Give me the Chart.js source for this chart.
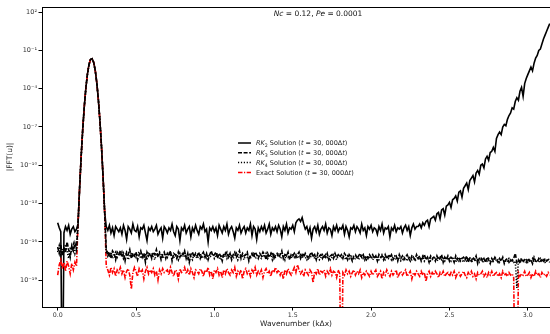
<!DOCTYPE html>
<html>
<head>
<meta charset="utf-8">
<script src="https://cdn.jsdelivr.net/npm/chart.js@4.4.1/dist/chart.umd.min.js"></script>
<style>
  html, body { margin: 0; padding: 0; background: #fff; }
  #wrap { width: 550px; height: 334px; }
</style>
</head>
<body>
<div id="wrap"><canvas id="fft" width="550" height="334"></canvas></div>
<script>
// wavenumber grid (k dx) and log10 |FFT(u)|
const wavenumber = [
  0.00,0.01,0.02,0.03,0.04,0.05,0.06,0.07,0.08,0.09,
  0.10,0.11,0.12,0.13,0.14,0.15,0.16,0.17,0.18,0.19,
  0.20,0.21,0.22,0.23,0.24,0.25,0.26,0.27,0.28,0.29,
  0.30,0.31,0.32,0.33,0.34,0.35,0.36,0.37,0.38,0.39,
  0.40,0.41,0.42,0.43,0.44,0.45,0.46,0.47,0.48,0.49,
  0.50,0.51,0.52,0.53,0.54,0.55,0.56,0.57,0.58,0.59,
  0.60,0.61,0.62,0.63,0.64,0.65,0.66,0.67,0.68,0.69,
  0.70,0.71,0.72,0.73,0.74,0.75,0.76,0.77,0.78,0.79,
  0.80,0.81,0.82,0.83,0.84,0.85,0.86,0.87,0.88,0.89,
  0.90,0.91,0.92,0.93,0.94,0.95,0.96,0.97,0.98,0.99,
  1.00,1.01,1.02,1.03,1.04,1.05,1.06,1.07,1.08,1.09,
  1.10,1.11,1.12,1.13,1.14,1.15,1.16,1.17,1.18,1.19,
  1.20,1.21,1.22,1.23,1.24,1.25,1.26,1.27,1.28,1.29,
  1.30,1.31,1.32,1.33,1.34,1.35,1.36,1.37,1.38,1.39,
  1.40,1.41,1.42,1.43,1.44,1.45,1.46,1.47,1.48,1.49,
  1.50,1.51,1.52,1.53,1.54,1.55,1.56,1.57,1.58,1.59,
  1.60,1.61,1.62,1.63,1.64,1.65,1.66,1.67,1.68,1.69,
  1.70,1.71,1.72,1.73,1.74,1.75,1.76,1.77,1.78,1.79,
  1.80,1.81,1.82,1.83,1.84,1.85,1.86,1.87,1.88,1.89,
  1.90,1.91,1.92,1.93,1.94,1.95,1.96,1.97,1.98,1.99,
  2.00,2.01,2.02,2.03,2.04,2.05,2.06,2.07,2.08,2.09,
  2.10,2.11,2.12,2.13,2.14,2.15,2.16,2.17,2.18,2.19,
  2.20,2.21,2.22,2.23,2.24,2.25,2.26,2.27,2.28,2.29,
  2.30,2.31,2.32,2.33,2.34,2.35,2.36,2.37,2.38,2.39,
  2.40,2.41,2.42,2.43,2.44,2.45,2.46,2.47,2.48,2.49,
  2.50,2.51,2.52,2.53,2.54,2.55,2.56,2.57,2.58,2.59,
  2.60,2.61,2.62,2.63,2.64,2.65,2.66,2.67,2.68,2.69,
  2.70,2.71,2.72,2.73,2.74,2.75,2.76,2.77,2.78,2.79,
  2.80,2.81,2.82,2.83,2.84,2.85,2.86,2.87,2.88,2.89,
  2.90,2.91,2.92,2.93,2.94,2.95,2.96,2.97,2.98,2.99,
  3.00,3.01,3.02,3.03,3.04,3.05,3.06,3.07,3.08,3.09,
  3.10,3.11,3.12,3.13,3.14
];

const rk2Log = [
  -14.5,-14.9,-15.2,-30,-15.3,-14.8,-15.1,-14.7,-15.4,-15.0,
  -14.8,-15.2,-15.0,-14.59,-11.77,-9.29,-7.16,-5.38,-3.94,-2.85,
  -2.10,-1.70,-1.65,-1.95,-2.59,-3.57,-4.91,-6.59,-8.61,-10.99,
  -13.71,-14.8,-15.1,-14.7,-15.3,-14.9,-15.5,-14.8,-15.0,-15.2,
  -14.9,-15.4,-14.7,-15.1,-15.8,-14.8,-15.0,-15.3,-14.6,-15.1,
  -15.2,-14.8,-15.6,-14.9,-15.0,-14.7,-15.3,-15.9,-14.9,-15.1,
  -14.8,-15.2,-15.0,-14.7,-15.4,-15.1,-14.9,-15.7,-14.8,-15.0,
  -15.3,-14.9,-15.1,-14.6,-15.2,-15.5,-14.8,-15.0,-15.9,-14.9,
  -15.1,-14.7,-15.3,-15.0,-14.8,-15.6,-14.9,-15.2,-14.7,-15.1,
  -15.4,-14.8,-15.0,-14.6,-15.2,-15.0,-16.0,-14.9,-15.1,-14.8,
  -15.2,-14.9,-15.5,-14.7,-15.0,-15.3,-14.8,-15.1,-14.6,-15.4,
  -15.0,-14.8,-15.2,-15.7,-14.9,-15.1,-14.7,-15.3,-15.0,-14.8,
  -15.3,-14.9,-15.1,-14.6,-15.5,-14.8,-15.0,-15.8,-14.9,-15.2,
  -14.8,-15.1,-14.7,-15.3,-15.0,-14.6,-15.4,-14.9,-15.1,-14.8,
  -15.2,-14.7,-15.0,-15.6,-14.8,-15.1,-14.6,-15.3,-14.9,-15.0,
  -14.7,-15.2,-14.5,-14.3,-14.2,-14.4,-14.1,-14.6,-15.0,-14.8,
  -15.3,-14.9,-15.7,-15.0,-14.8,-15.2,-14.7,-15.4,-15.0,-14.8,
  -15.1,-14.6,-15.3,-14.9,-15.0,-15.5,-14.8,-15.1,-14.7,-15.2,
  -14.9,-15.0,-14.7,-15.4,-14.8,-15.1,-15.6,-14.9,-15.0,-14.7,
  -15.2,-14.8,-15.0,-15.3,-14.6,-15.1,-14.9,-15.5,-14.8,-15.0,
  -14.7,-15.2,-14.9,-15.0,-15.4,-14.8,-15.1,-14.6,-15.3,-14.9,
  -15.0,-14.8,-15.6,-14.9,-15.1,-14.7,-15.2,-14.9,-15.0,-14.8,
  -15.3,-14.9,-14.7,-15.1,-14.8,-15.5,-14.9,-14.6,-15.0,-14.8,
  -14.8,-14.6,-14.9,-14.5,-14.7,-14.4,-14.3,-14.8,-14.2,-14.1,
  -14.0,-14.3,-13.8,-13.7,-14.2,-13.5,-13.4,-13.9,-13.2,-13.1,
  -12.9,-13.3,-12.7,-12.6,-12.4,-12.8,-12.1,-12.0,-12.5,-11.8,
  -11.6,-11.4,-11.9,-11.2,-11.0,-10.8,-11.3,-10.6,-10.4,-10.7,
  -10.0,-9.9,-10.2,-9.5,-9.3,-9.6,-9.0,-8.9,-8.6,-8.9,
  -7.9,-7.6,-7.4,-7.6,-7.0,-6.8,-6.9,-6.4,-6.1,-5.9,
  -5.5,-5.6,-5.0,-4.7,-4.9,-4.2,-3.9,-4.6,-3.6,-3.2,
  -2.9,-2.6,-2.3,-2.6,-2.0,-1.6,-1.4,-1.0,-0.9,-0.5,
  -0.1,0.2,0.5,0.8,1.1
];

const rk3Log = [
  -16.4,-16.9,-16.2,-17.1,-16.5,-16.8,-16.0,-16.6,-17.2,-16.3,
  -16.7,-16.1,-16.6,-14.59,-11.77,-9.29,-7.16,-5.38,-3.94,-2.85,
  -2.10,-1.70,-1.65,-1.95,-2.59,-3.57,-4.91,-6.59,-8.61,-10.99,
  -13.71,-16.6,-17.1,-16.8,-17.3,-16.7,-16.9,-17.4,-16.8,-17.0,
  -16.7,-17.2,-16.9,-17.5,-16.8,-17.0,-16.6,-17.3,-16.9,-17.1,
  -16.8,-17.4,-17.0,-16.7,-17.2,-16.9,-17.6,-16.8,-17.1,-16.9,
  -17.3,-16.8,-17.0,-16.6,-17.2,-16.9,-17.4,-17.0,-16.8,-17.3,
  -16.9,-17.1,-16.7,-17.5,-16.9,-17.0,-17.3,-16.8,-17.2,-16.9,
  -17.0,-16.7,-17.3,-16.9,-17.6,-17.0,-16.8,-17.2,-16.9,-17.1,
  -16.8,-17.3,-17.0,-16.8,-17.2,-16.9,-17.4,-17.0,-16.7,-17.1,
  -17.0,-16.8,-17.3,-16.9,-17.1,-17.5,-16.9,-17.0,-16.8,-17.2,
  -16.9,-17.4,-17.0,-16.8,-17.2,-17.0,-16.7,-17.3,-16.9,-17.1,
  -17.0,-16.8,-17.5,-17.1,-16.9,-17.2,-16.8,-17.0,-17.3,-16.9,
  -17.1,-16.8,-17.0,-17.4,-16.9,-17.2,-17.0,-16.8,-17.3,-17.0,
  -16.9,-17.2,-17.0,-16.7,-17.3,-17.0,-17.1,-16.8,-17.4,-17.0,
  -17.1,-16.9,-17.2,-17.0,-16.8,-17.3,-17.0,-17.2,-16.9,-17.1,
  -17.3,-17.0,-16.8,-17.2,-17.0,-17.4,-16.9,-17.1,-17.0,-17.3,
  -17.0,-17.2,-16.9,-17.4,-17.1,-17.0,-17.3,-16.9,-17.2,-17.0,
  -17.2,-17.0,-17.3,-16.9,-17.1,-17.4,-17.0,-17.2,-17.5,-17.1,
  -17.0,-17.3,-17.1,-16.9,-17.2,-17.0,-17.4,-17.1,-17.3,-17.0,
  -17.2,-17.0,-17.3,-17.1,-17.5,-17.0,-17.2,-17.1,-17.4,-17.0,
  -17.3,-17.1,-17.2,-17.0,-17.4,-17.2,-17.1,-17.5,-17.0,-17.3,
  -17.1,-17.4,-17.2,-17.0,-17.3,-17.5,-17.1,-17.2,-17.4,-17.0,
  -17.3,-17.1,-17.5,-17.2,-17.0,-17.4,-17.2,-17.6,-17.1,-17.3,
  -17.2,-17.5,-17.1,-17.4,-17.3,-17.0,-17.6,-17.2,-17.4,-17.1,
  -17.5,-17.2,-17.3,-17.6,-17.1,-17.4,-17.2,-17.5,-17.3,-17.2,
  -17.4,-17.1,-17.6,-17.3,-17.5,-17.2,-17.4,-17.1,-17.7,-17.3,
  -17.2,-17.5,-17.3,-17.6,-17.2,-17.4,-17.7,-17.3,-17.5,-17.2,
  -17.4,-17.6,-17.3,-17.5,-17.2,-17.7,-17.4,-17.3,-17.6,-17.4,
  -17.5,-17.3,-16.9,-17.6,-17.4,-17.7,-17.3,-17.5,-17.4,-17.6,
  -17.3,-17.5,-17.4,-17.7,-17.2,-17.5,-17.6,-17.3,-17.5,-17.4,
  -17.6,-17.3,-17.5,-17.4,-17.6
];

const rk4Log = [
  -16.8,-16.3,-17.0,-16.5,-16.9,-16.2,-16.7,-17.3,-16.4,-16.8,
  -16.2,-16.9,-16.4,-14.59,-11.77,-9.29,-7.16,-5.38,-3.94,-2.85,
  -2.10,-1.70,-1.65,-1.95,-2.59,-3.57,-4.91,-6.59,-8.61,-10.99,
  -13.71,-16.9,-16.7,-17.2,-16.8,-17.3,-17.0,-16.8,-17.2,-16.9,
  -17.1,-16.8,-17.3,-17.0,-16.9,-17.4,-17.1,-16.8,-17.2,-16.9,
  -17.2,-16.9,-16.8,-17.3,-17.0,-17.2,-16.9,-17.4,-16.8,-17.1,
  -16.9,-17.2,-17.4,-16.9,-17.1,-16.8,-17.0,-17.3,-17.1,-16.9,
  -17.2,-16.8,-17.0,-17.1,-17.3,-16.9,-17.1,-17.4,-16.9,-17.2,
  -16.9,-17.2,-17.0,-17.3,-16.9,-17.2,-17.4,-16.9,-17.1,-17.3,
  -17.1,-16.9,-17.3,-17.1,-16.9,-17.4,-17.0,-17.2,-17.1,-16.9,
  -17.3,-17.1,-16.9,-17.2,-17.4,-17.0,-17.2,-16.9,-17.3,-17.0,
  -17.2,-17.0,-17.3,-17.1,-16.9,-17.4,-17.1,-17.0,-17.2,-17.4,
  -16.9,-17.2,-17.1,-17.3,-17.0,-16.9,-17.3,-17.2,-17.0,-17.2,
  -17.3,-17.0,-17.2,-16.9,-17.3,-17.1,-16.9,-17.4,-17.0,-17.2,
  -17.1,-16.9,-17.3,-17.2,-17.0,-17.4,-16.9,-17.2,-17.1,-17.3,
  -16.9,-17.2,-17.0,-17.3,-17.1,-17.0,-17.3,-16.9,-17.2,-17.4,
  -17.1,-17.3,-17.0,-16.9,-17.3,-17.1,-17.2,-17.4,-17.2,-17.0,
  -17.3,-17.0,-17.2,-17.1,-17.4,-17.2,-17.0,-17.2,-17.4,-17.1,
  -17.0,-17.3,-17.1,-17.2,-17.4,-17.1,-17.3,-17.0,-17.2,-17.4,
  -17.3,-17.1,-17.4,-17.2,-17.0,-17.3,-17.2,-17.4,-17.1,-17.3,
  -17.1,-17.4,-17.2,-17.3,-17.1,-17.4,-17.3,-17.0,-17.2,-17.4,
  -17.2,-17.3,-17.0,-17.4,-17.2,-17.1,-17.4,-17.3,-17.2,-17.5,
  -17.4,-17.2,-17.3,-17.5,-17.1,-17.3,-17.4,-17.2,-17.5,-17.3,
  -17.2,-17.4,-17.3,-17.1,-17.5,-17.3,-17.4,-17.2,-17.5,-17.4,
  -17.3,-17.2,-17.5,-17.3,-17.1,-17.4,-17.3,-17.5,-17.2,-17.4,
  -17.3,-17.5,-17.2,-17.4,-17.6,-17.3,-17.5,-17.2,-17.4,-17.6,
  -17.3,-17.5,-17.4,-17.2,-17.6,-17.4,-17.3,-17.5,-17.4,-17.6,
  -17.4,-17.3,-17.6,-17.4,-17.5,-17.3,-17.5,-17.6,-17.4,-17.3,
  -17.5,-17.4,-17.6,-17.3,-17.5,-17.4,-17.6,-17.5,-17.3,-17.5,
  -17.4,-17.6,-17.5,-19.6,-17.4,-17.5,-17.3,-17.6,-17.5,-17.4,
  -17.6,-17.4,-17.5,-17.3,-17.6,-17.5,-17.4,-17.6,-17.3,-17.5,
  -17.4,-17.6,-17.5,-17.3,-17.5
];

const exactLog = [
  -18.6,-17.8,-17.4,-18.1,-17.6,-18.3,-17.5,-17.9,-18.5,-17.7,
  -18.2,-17.6,-17.9,-14.59,-11.77,-9.29,-7.16,-5.38,-3.94,-2.85,
  -2.10,-1.70,-1.65,-1.95,-2.59,-3.57,-4.91,-6.59,-8.61,-10.99,
  -13.71,-17.9,-18.2,-18.6,-18.0,-18.4,-18.1,-18.7,-18.2,-18.4,
  -18.0,-18.5,-18.2,-18.8,-18.3,-18.1,-18.6,-19.7,-18.4,-18.0,
  -18.3,-18.7,-18.1,-18.4,-18.2,-18.9,-18.3,-18.0,-18.5,-18.2,
  -18.4,-18.1,-18.6,-18.3,-19.0,-18.2,-18.5,-18.1,-18.4,-18.3,
  -18.2,-18.6,-18.0,-18.4,-18.7,-18.2,-18.3,-18.9,-18.1,-18.4,
  -18.3,-18.0,-18.5,-18.2,-18.6,-18.1,-18.4,-18.8,-18.2,-18.3,
  -18.5,-18.1,-18.3,-18.7,-18.2,-18.4,-18.0,-18.6,-18.3,-18.9,
  -18.2,-18.4,-18.1,-18.6,-18.3,-18.8,-18.2,-18.5,-18.1,-18.4,
  -18.6,-18.2,-18.4,-18.0,-18.7,-18.3,-18.5,-18.2,-18.9,-18.3,
  -18.1,-18.5,-18.3,-18.7,-18.2,-18.4,-18.0,-18.6,-18.3,-18.5,
  -18.2,-18.8,-18.3,-18.1,-18.5,-18.3,-18.7,-18.2,-18.4,-18.0,
  -18.4,-18.2,-18.6,-18.3,-18.9,-18.2,-18.5,-18.1,-18.4,-18.6,
  -18.3,-18.0,-18.4,-17.8,-18.2,-18.5,-18.3,-18.7,-18.2,-18.4,
  -18.6,-18.2,-18.4,-19.2,-18.3,-18.5,-18.1,-18.6,-18.3,-18.4,
  -18.2,-18.7,-18.3,-18.5,-18.1,-18.6,-18.3,-18.4,-18.8,-18.2,
  -18.5,-30,-18.4,-18.6,-18.2,-18.5,-18.3,-18.7,-18.4,-18.2,
  -18.6,-18.3,-18.5,-18.2,-18.8,-18.4,-18.6,-18.3,-18.5,-18.7,
  -18.3,-18.6,-18.4,-18.2,-18.7,-18.5,-18.3,-18.9,-18.4,-18.6,
  -18.2,-18.5,-18.7,-18.3,-18.6,-18.4,-18.2,-18.8,-18.5,-18.3,
  -18.6,-18.4,-18.2,-18.7,-18.5,-18.3,-18.9,-18.4,-18.6,-18.3,
  -18.5,-18.7,-18.3,-18.6,-18.4,-19.1,-18.5,-18.3,-18.7,-18.4,
  -18.6,-18.3,-18.5,-18.8,-18.4,-18.6,-18.3,-18.7,-18.5,-18.4,
  -18.7,-18.4,-18.6,-18.3,-18.8,-18.5,-18.4,-18.7,-18.5,-18.3,
  -18.6,-18.8,-18.4,-18.6,-18.3,-18.7,-18.5,-18.9,-18.4,-18.6,
  -18.5,-18.3,-18.7,-18.5,-18.8,-18.4,-18.6,-18.3,-18.7,-18.5,
  -18.4,-18.7,-18.5,-18.8,-18.3,-18.6,-18.5,-18.7,-18.4,-18.6,
  -18.5,-18.8,-30,-30,-18.4,-18.7,-18.5,-18.6,-18.3,-18.7,
  -18.6,-18.4,-18.8,-18.5,-18.7,-18.3,-18.6,-18.5,-18.8,-18.4,
  -18.6,-18.5,-18.7,-18.4,-18.6
];

const xTicks = [0.0, 0.5, 1.0, 1.5, 2.0, 2.5, 3.0];
const yTickExponents = [2, -1, -4, -7, -10, -13, -16, -19];
const seriesNames = ['RK2', 'RK3', 'RK4', 'Exact'];

const FONT = '"DejaVu Sans", sans-serif';
const SUP = { '-': '\u207B', '0': '\u2070', '1': '\u00B9', '2': '\u00B2', '3': '\u00B3', '4': '\u2074',
              '5': '\u2075', '6': '\u2076', '7': '\u2077', '8': '\u2078', '9': '\u2079' };

function toPoints(logs) {
    return logs.map((v, i) => ({ x: wavenumber[i], y: Math.pow(10, v) }));
}

function richText(ctx, x, y, parts, size) {
    let cx = x;
    parts.forEach(p => {
        const s = p.sub ? size * 0.72 : size;
        ctx.font = (p.it ? 'italic ' : '') + s + 'px ' + FONT;
        ctx.fillText(p.t, cx, p.sub ? y + size * 0.28 : y);
        cx += ctx.measureText(p.t).width;
    });
    return cx - x;
}

function richWidth(ctx, parts, size) {
    let w = 0;
    parts.forEach(p => {
        const s = p.sub ? size * 0.72 : size;
        ctx.font = (p.it ? 'italic ' : '') + s + 'px ' + FONT;
        w += ctx.measureText(p.t).width;
    });
    return w;
}

function legendLabel(name) {
    const tail = [{ t: ' Solution (' }, { t: 't', it: 1 }, { t: ' = 30, 000\u0394' }, { t: 't', it: 1 }, { t: ')' }];
    if (name === 'Exact') return [{ t: 'Exact' }].concat(tail);
    return [{ t: 'RK', it: 1 }, { t: name.slice(2), sub: 1 }].concat(tail);
}

const lineStyles = [
    { color: '#000', dash: [] },
    { color: '#000', dash: [4, 1.6] },
    { color: '#000', dash: [1.2, 1.7] },
    { color: '#ff0000', dash: [4.5, 1.5, 1.2, 1.5] }
];

const decorPlugin = {
    id: 'decor',
    afterDraw(chart) {
        const ctx = chart.ctx;
        const ca = chart.chartArea;
        ctx.save();
        // top spine
        ctx.strokeStyle = '#000';
        ctx.lineWidth = 1;
        ctx.beginPath();
        ctx.moveTo(ca.left, ca.top + 0.5);
        ctx.lineTo(ca.right, ca.top + 0.5);
        ctx.stroke();

        // title inside the axes
        ctx.fillStyle = '#111';
        ctx.textBaseline = 'alphabetic';
        const title = [{ t: 'Nc', it: 1 }, { t: ' = 0.12, ' }, { t: 'Pe', it: 1 }, { t: ' = 0.0001' }];
        const tw = richWidth(ctx, title, 7.5);
        richText(ctx, ca.left + 276 - tw / 2, ca.top + 8.5, title, 7.5);

        // legend
        const lx = ca.left + 196, ly = ca.top + 136, rowH = 9.8;
        seriesNames.forEach((name, i) => {
            const y = ly + i * rowH;
            const st = lineStyles[i];
            ctx.strokeStyle = st.color;
            ctx.lineWidth = 1.5;
            ctx.setLineDash(st.dash);
            ctx.beginPath();
            ctx.moveTo(lx, y);
            ctx.lineTo(lx + 13, y);
            ctx.stroke();
            ctx.setLineDash([]);
            ctx.fillStyle = '#222';
            richText(ctx, lx + 18, y + 2.3, legendLabel(name), 6.5);
        });
        ctx.restore();
    }
};

const datasets = [rk2Log, rk3Log, rk4Log, exactLog].map((logs, i) => ({
    label: seriesNames[i],
    data: toPoints(logs),
    borderColor: lineStyles[i].color,
    borderDash: lineStyles[i].dash,
    borderWidth: 1.6,
    pointRadius: 0,
    tension: 0,
    fill: false,
    order: [3, 1, 0, 2][i]
}));

new Chart(document.getElementById('fft'), {
    type: 'line',
    data: { datasets: datasets },
    options: {
        responsive: false,
        animation: false,
        events: [],
        layout: { padding: { top: 7, right: 0, left: 0, bottom: 0 } },
        plugins: { legend: { display: false }, tooltip: { enabled: false }, title: { display: false } },
        scales: {
            x: {
                type: 'linear',
                min: -0.1,
                max: 3.1416,
                afterBuildTicks: s => { s.ticks = xTicks.map(v => ({ value: v })); },
                afterFit: s => { s.height = 27; },
                grid: { drawOnChartArea: false, drawTicks: true, tickLength: 3.5, color: '#000' },
                border: { display: true, color: '#000', width: 1 },
                ticks: {
                    autoSkip: false, maxRotation: 0, padding: 1.5, color: '#333',
                    font: { family: FONT, size: 6.3 },
                    callback: v => Number(v).toFixed(1)
                },
                title: {
                    display: true, text: 'Wavenumber (k\u0394x)', color: '#222',
                    font: { family: FONT, size: 7.5 }, padding: { top: 0, bottom: 5 }
                }
            },
            y: {
                type: 'logarithmic',
                min: Math.pow(10, -21.1),
                max: Math.pow(10, 2.4),
                afterBuildTicks: s => { s.ticks = yTickExponents.map(e => ({ value: Math.pow(10, e), major: true })); },
                afterFit: s => { s.width = 42; },
                grid: { drawOnChartArea: false, drawTicks: true, tickLength: 3.5, color: '#000' },
                border: { display: true, color: '#000', width: 1 },
                ticks: {
                    autoSkip: false, padding: 1.5, color: '#333',
                    font: { family: FONT, size: 6.5 },
                    callback: v => {
                        const e = Math.round(Math.log10(v));
                        return '10' + String(e).split('').map(c => SUP[c]).join('');
                    }
                },
                title: {
                    display: true, text: '|FFT(u)|', color: '#222',
                    font: { family: FONT, size: 7.5 }, padding: { top: 6, bottom: 0 }
                }
            }
        }
    },
    plugins: [decorPlugin]
});
</script>
</body>
</html>
